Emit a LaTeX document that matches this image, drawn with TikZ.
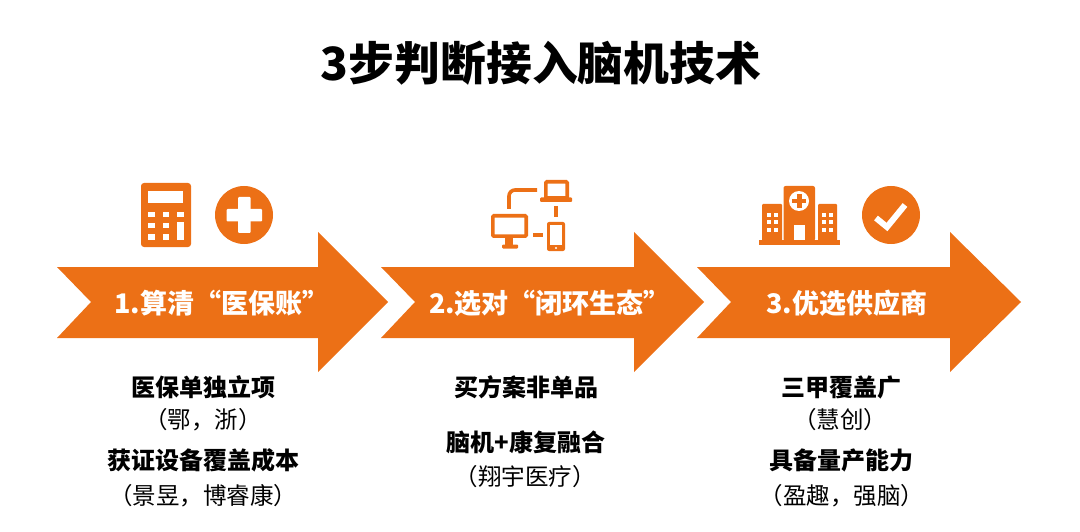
\documentclass[tikz,border=0pt]{standalone}
\usepackage{fontspec}
\setmainfont{Noto Sans CJK SC}
\usetikzlibrary{positioning}
\definecolor{stepOrange}{RGB}{236,112,22}
\tikzset{
  arrowbox/.style={fill=stepOrange,draw=none},
  stepText/.style={text=white,font=\fontsize{27}{31}\selectfont\bfseries,inner sep=0pt},
  headText/.style={font=\fontsize{24}{28}\selectfont\bfseries,inner sep=0pt},
  noteText/.style={font=\fontsize{23.5}{28}\selectfont,inner sep=0pt},
  iconline/.style={draw=stepOrange,line width=3.6pt},
  iconfill/.style={fill=stepOrange,draw=none},
  iconhole/.style={fill=white,draw=none},
}
\begin{document}
\begin{tikzpicture}[x=1pt,y=-1pt]
    \useasboundingbox (0,0) rectangle (1080,532);
    \node[font=\fontsize{45.8}{52}\selectfont\bfseries,inner sep=0pt] (title) at (541,63) {3步判断接入脑机技术};
    % arrows
    \fill[arrowbox] (57,267) -- (318,267) -- (318,232) -- (388,302) -- (318,372) -- (318,338) -- (57,338) -- (91,302) -- cycle;
    \fill[arrowbox] (381,267) -- (634,267) -- (634,232) -- (704,302) -- (634,372) -- (634,338) -- (381,338) -- (415,302) -- cycle;
    \fill[arrowbox] (697,267) -- (950,267) -- (950,232) -- (1021,302) -- (950,372) -- (950,338) -- (697,338) -- (731,302) -- cycle;
    \node[stepText] (step one) at (222,303) {1.算清“医保账”};
    \node[stepText] (step two) at (550,303) {2.选对“闭环生态”};
    \node[stepText] (step three) at (847,303) {3.优选供应商};
    % calculator
    \fill[iconfill,rounded corners=3pt] (141,183) rectangle (191,247);
    \fill[iconhole] (148,191) rectangle (183,203);
    \foreach \x in {148,162.5,177} \fill[iconhole] (\x,212) rectangle +(6.5,5.5);
    \foreach \x in {148,162.5} \foreach \y in {223,234.5} \fill[iconhole] (\x,\y) rectangle +(6.5,5.5);
    \fill[iconhole] (177,222.5) rectangle (183.5,240);
    \fill[iconfill] (244,215) circle (29);
    \fill[iconhole,rounded corners=1pt] (238,197) rectangle (250.5,233);
    \fill[iconhole,rounded corners=1pt] (226.5,209) rectangle (262,221.5);
    % devices
    \draw[iconline,rounded corners=6pt] (509,209) -- (509,190) -- (537,190);
    \draw[iconline] (556,206) -- (556,217);
    \draw[iconline] (533,235) -- (543,235);
    \draw[iconline,rounded corners=1pt] (545.8,181.8) rectangle (567.2,198);
    \fill[iconfill,rounded corners=1pt] (540,197.5) rectangle (572,202);
    \draw[iconline,rounded corners=1pt] (492.8,215.8) rectangle (526.2,236.2);
    \fill[iconfill] (505,237) rectangle (513,246);
    \fill[iconfill,rounded corners=1pt] (502,244.5) rectangle (518,248.5);
    \fill[iconfill,rounded corners=2pt] (547,222) rectangle (565,251);
    \fill[iconhole] (550,225) rectangle (562,245);
    \fill[iconhole] (556,248) circle (1.2);
    % hospital
    \fill[iconfill,rounded corners=1pt] (762,204) rectangle (782,241);
    \fill[iconfill,rounded corners=1pt] (818,204) rectangle (837,241);
    \fill[iconfill,rounded corners=2pt] (783.5,186) rectangle (815,241);
    \fill[iconfill] (759,240) rectangle (840,245);
    \fill[iconhole] (799,201) circle (10);
    \fill[iconfill] (797,194) rectangle (801.5,208);
    \fill[iconfill] (792,198.8) rectangle (806,203.2);
    \fill[iconhole] (794,225) rectangle (805,240);
    \foreach \x in {767,774} \foreach \y in {213,220.5,228} \fill[iconhole] (\x,\y) rectangle +(3.8,4);
    \foreach \x in {822,829} \foreach \y in {213,220.5,228} \fill[iconhole] (\x,\y) rectangle +(3.8,4);
    \fill[iconfill] (891,215) circle (29);
    \draw[white,line width=6pt] (876,218) -- (887,227) -- (905,205);
    % first column
    \node[headText] (head a) at (203,387) {医保单独立项};
    \node[noteText] (note a) at (203,420) {（鄂，浙）};
    \node[headText] (head b) at (203,460) {获证设备覆盖成本};
    \node[noteText] (note b) at (203,496) {（景昱，博睿康）};
    % second column
    \node[headText] (head c) at (526,387) {买方案非单品};
    \node[headText] (head d) at (526,442) {脑机+康复融合};
    \node[noteText] (note d) at (525,477) {（翔宇医疗）};
    % third column
    \node[headText] (head e) at (841,387) {三甲覆盖广};
    \node[noteText] (note e) at (840,420) {（慧创）};
    \node[headText] (head f) at (841,460) {具备量产能力};
    \node[noteText] (note f) at (842,496) {（盈趣，强脑）};
\end{tikzpicture}
\end{document}
